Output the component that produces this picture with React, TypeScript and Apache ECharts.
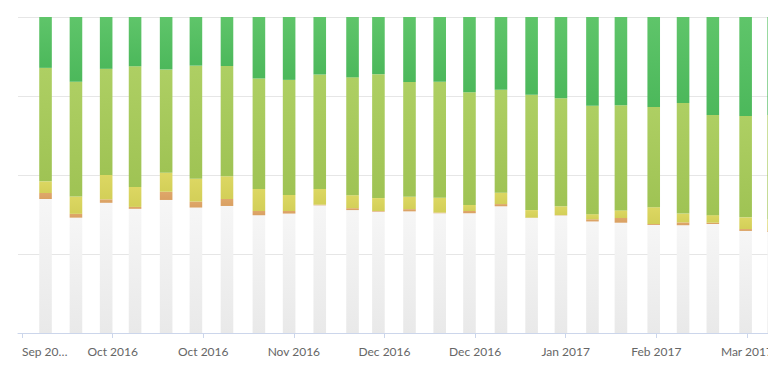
import React, { useEffect, useRef } from 'react';
import * as echarts from 'echarts';

// Day offset of each weekly bar, counted from the first axis tick
const barDays = [5.45, 12.5, 19.5, 26.2, 33.4, 40.3, 47.5, 54.9, 61.9, 69.0, 76.6, 82.6, 89.8, 96.8, 103.7, 111.0, 118.1, 124.9, 132.2, 138.8, 146.4, 153.2, 160.1, 167.7, 174.2];

// Shares (%) per bar, bottom to top
const greyValues = [42.4, 36.5, 41.2, 39.3, 42.1, 39.7, 40.2, 37.3, 37.8, 40.4, 38.9, 38.4, 38.5, 37.9, 37.9, 40.1, 36.4, 37.2, 35.3, 34.9, 34.2, 34.1, 34.5, 32.3, 32.0];
const orangeValues = [1.9, 1.2, 1.1, 0.6, 2.6, 1.9, 2.2, 1.3, 0.8, 0.2, 0.6, 0.2, 0.7, 0.2, 0.7, 0.7, 0.1, 0.1, 0.7, 1.5, 0.3, 0.9, 0.4, 0.6, 0.5];
const yellowValues = [3.7, 5.5, 7.7, 6.3, 6.0, 7.2, 7.2, 7.0, 5.1, 5.0, 4.1, 4.1, 3.9, 4.7, 1.9, 3.6, 2.4, 2.8, 1.6, 2.4, 5.3, 2.8, 2.4, 3.7, 3.5];
const lightGreenValues = [35.9, 36.3, 33.6, 38.2, 32.7, 35.8, 34.9, 34.9, 36.4, 36.2, 37.3, 39.2, 36.3, 36.7, 35.7, 32.6, 36.5, 34.2, 34.3, 33.3, 31.7, 35.0, 31.7, 32.1, 33.0];
const greenValues = [16.1, 20.5, 16.4, 15.6, 16.6, 15.4, 15.5, 19.5, 19.9, 18.2, 19.1, 18.1, 20.6, 20.5, 23.8, 23.0, 24.6, 25.7, 28.1, 27.9, 28.5, 27.2, 31.0, 31.3, 31.0];

// X axis ticks (days) and their labels
const tickDays = [0, 21, 42, 63, 84, 105, 126, 147, 168];
const tickLabels = ['Sep 20…', 'Oct 2016', 'Oct 2016', 'Nov 2016', 'Dec 2016', 'Dec 2016', 'Jan 2017', 'Feb 2017', 'Mar 2017'];

const seriesDefs = [
  { name: 'Grey', values: greyValues, top: '#f6f6f6', bottom: '#e9e9e9' },
  { name: 'Orange', values: orangeValues, top: '#dfa76a', bottom: '#d9a062' },
  { name: 'Yellow', values: yellowValues, top: '#dcd762', bottom: '#d3cf58' },
  { name: 'Light green', values: lightGreenValues, top: '#aecf63', bottom: '#9fc354' },
  { name: 'Green', values: greenValues, top: '#5fc56a', bottom: '#4cb85b' },
];

const BAR_WIDTH = 12.6;

export default function App() {
  const ref = useRef<HTMLDivElement>(null);

  useEffect(() => {
    if (!ref.current) return;
    const chart = echarts.init(ref.current, undefined, { renderer: 'svg' });
    const labelMap: Record<string, string> = {};
    tickDays.forEach((d, i) => (labelMap[String(d)] = tickLabels[i]));

    // stacked [x, start, end] rows built from the arrays above
    const running = barDays.map(() => 0);
    const series = seriesDefs.map((s) => {
      const rows = s.values.map((v, i) => {
        const start = running[i];
        running[i] = start + v;
        return [barDays[i], start, start + v];
      });
      const fill = new echarts.graphic.LinearGradient(0, 0, 0, 1, [
        { offset: 0, color: s.top },
        { offset: 1, color: s.bottom },
      ]);
      return {
        name: s.name,
        type: 'custom',
        encode: { x: 0, y: [1, 2] },
        data: rows,
        renderItem: (_params: any, api: any) => {
          const x = api.value(0);
          const lo = api.coord([x, api.value(1)]);
          const hi = api.coord([x, api.value(2)]);
          return {
            type: 'rect',
            shape: {
              x: lo[0] - BAR_WIDTH / 2,
              y: hi[1],
              width: BAR_WIDTH,
              height: lo[1] - hi[1],
            },
            style: { fill },
          };
        },
      };
    });

    chart.setOption({
      animation: false,
      backgroundColor: '#ffffff',
      grid: { left: 18, right: 0, top: 17, bottom: 45, containLabel: false },
      xAxis: {
        type: 'value',
        min: -0.93,
        max: 180.3,
        splitLine: { show: false },
        axisLine: { show: true, lineStyle: { color: '#ccd6eb', width: 1 } },
        axisTick: {
          show: true,
          length: 5,
          lineStyle: { color: '#ccd6eb' },
          customValues: tickDays,
        },
        axisLabel: {
          customValues: tickDays,
          color: '#666666',
          fontFamily: 'Lato, "Open Sans", sans-serif',
          fontSize: 12,
          margin: 12,
          alignMinLabel: 'left',
          showMinLabel: true,
          showMaxLabel: true,
          formatter: (v: number) => labelMap[String(v)] ?? '',
        },
      },
      yAxis: {
        type: 'value',
        min: 0,
        max: 100,
        interval: 25,
        axisLabel: { show: false },
        axisLine: { show: false },
        axisTick: { show: false },
        splitLine: { show: true, lineStyle: { color: '#e6e6e6', width: 1 } },
      },
      series,
    });

    return () => chart.dispose();
  }, []);

  return (
    <div
      style={{
        position: 'fixed',
        left: 0,
        top: 0,
        width: 768,
        height: 378,
        overflow: 'hidden',
        background: '#ffffff',
      }}
    >
      <div ref={ref} style={{ width: 800, height: 378 }} />
    </div>
  );
}
